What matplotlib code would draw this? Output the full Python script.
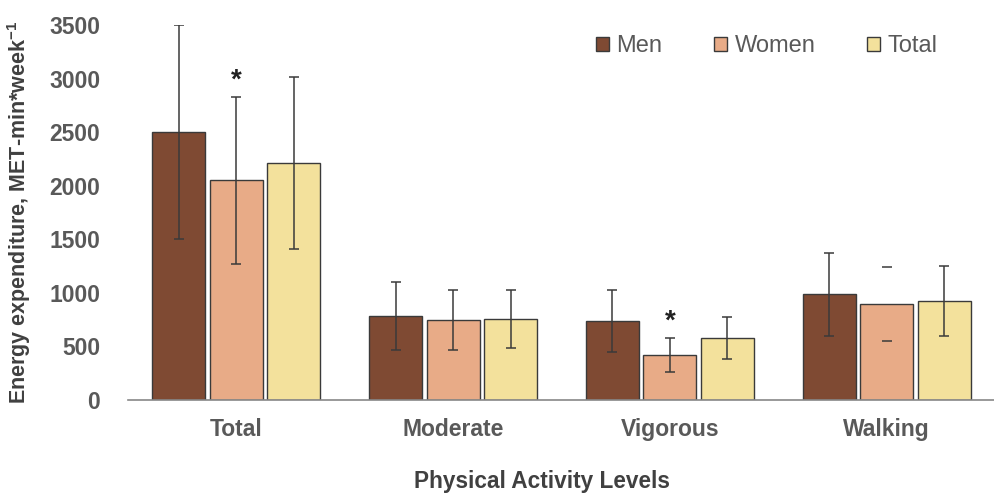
import numpy as np
import matplotlib
matplotlib.use("Agg")
from matplotlib import pyplot as plt

plt.rcParams['font.family'] = ['Liberation Sans', 'DejaVu Sans']
plt.rcParams['mathtext.fontset'] = 'custom'
plt.rcParams['mathtext.rm'] = 'Liberation Sans:bold'
plt.rcParams['mathtext.bf'] = 'Liberation Sans:bold'

categories = ["Total", "Moderate", "Vigorous", "Walking"]
series = ["Men", "Women", "Total"]
men = [2500, 785, 735, 985]
women = [2050, 748, 420, 896]
total = [2210, 756, 578, 924]
men_err = [1000, 315, 290, 388]
women_err = [780, 278, 160, 343]
total_err = [805, 275, 195, 328]
stars = [(0, 1), (2, 1)]  # (category, series) marked with *

values = [men, women, total]
errors = [men_err, women_err, total_err]
colors = ["#7f4a33", "#e8ab87", "#f3e19c"]

fig = plt.figure(figsize=(9.95, 4.93), dpi=100)
ax = fig.add_axes([128/995, 1 - 400/493, 1 - 128/995, 375/493])

x = np.arange(len(categories))
w = 0.245
step = 0.265
for i, name in enumerate(series):
    pos = x + (i - 1) * step
    ax.bar(pos, values[i], width=w, color=colors[i], edgecolor="#3a3a3a",
           linewidth=1, label=name, zorder=2)
    for j in range(len(categories)):
        lw = 0 if (name == "Women" and categories[j] == "Walking") else 1.1
        ax.errorbar(pos[j], values[i][j], yerr=errors[i][j], fmt="none",
                    ecolor="#3a3a3a", elinewidth=lw, capsize=3.5, capthick=1.1,
                    zorder=3)

for c, s in stars:
    top = values[s][c] + errors[s][c]
    ax.text(x[c] + (s - 1) * step, top + 30, "*", ha="center", va="bottom",
            fontsize=20, fontweight="bold", color="#222222")

ax.set_xlim(-0.5, 3.5)
ax.set_ylim(0, 3500)
ax.set_yticks(range(0, 3501, 500))
ax.set_xticks(x)
ax.set_xticklabels(categories)
ax.tick_params(axis="y", length=0, pad=20, labelsize=16.5, labelcolor="#595959")
ax.tick_params(axis="x", length=0, pad=13, labelsize=16.5, labelcolor="#595959")
for lab in ax.get_xticklabels() + ax.get_yticklabels():
    lab.set_fontweight("bold")

for sp in ["top", "right", "left"]:
    ax.spines[sp].set_visible(False)
ax.spines["bottom"].set_color("#888888")
ax.spines["bottom"].set_linewidth(1.2)

ax.set_ylabel("Energy expenditure, MET-min*week$^{-1}$", fontsize=15.5,
              fontweight="bold", color="#404040", va="center")
ax.yaxis.set_label_coords(-0.126, 0.5)
fig.text(542/995, 1 - 470/493, "Physical Activity Levels", ha="center",
         va="top", fontsize=16.3, fontweight="bold", color="#404040")

ax.legend(loc="upper right", bbox_to_anchor=(0.958, 1.03), ncol=3, frameon=False,
          fontsize=17, handlelength=0.55, handleheight=0.55, columnspacing=2.2,
          handletextpad=0.3, labelcolor="#595959")

fig.savefig("out.png", dpi=100)
